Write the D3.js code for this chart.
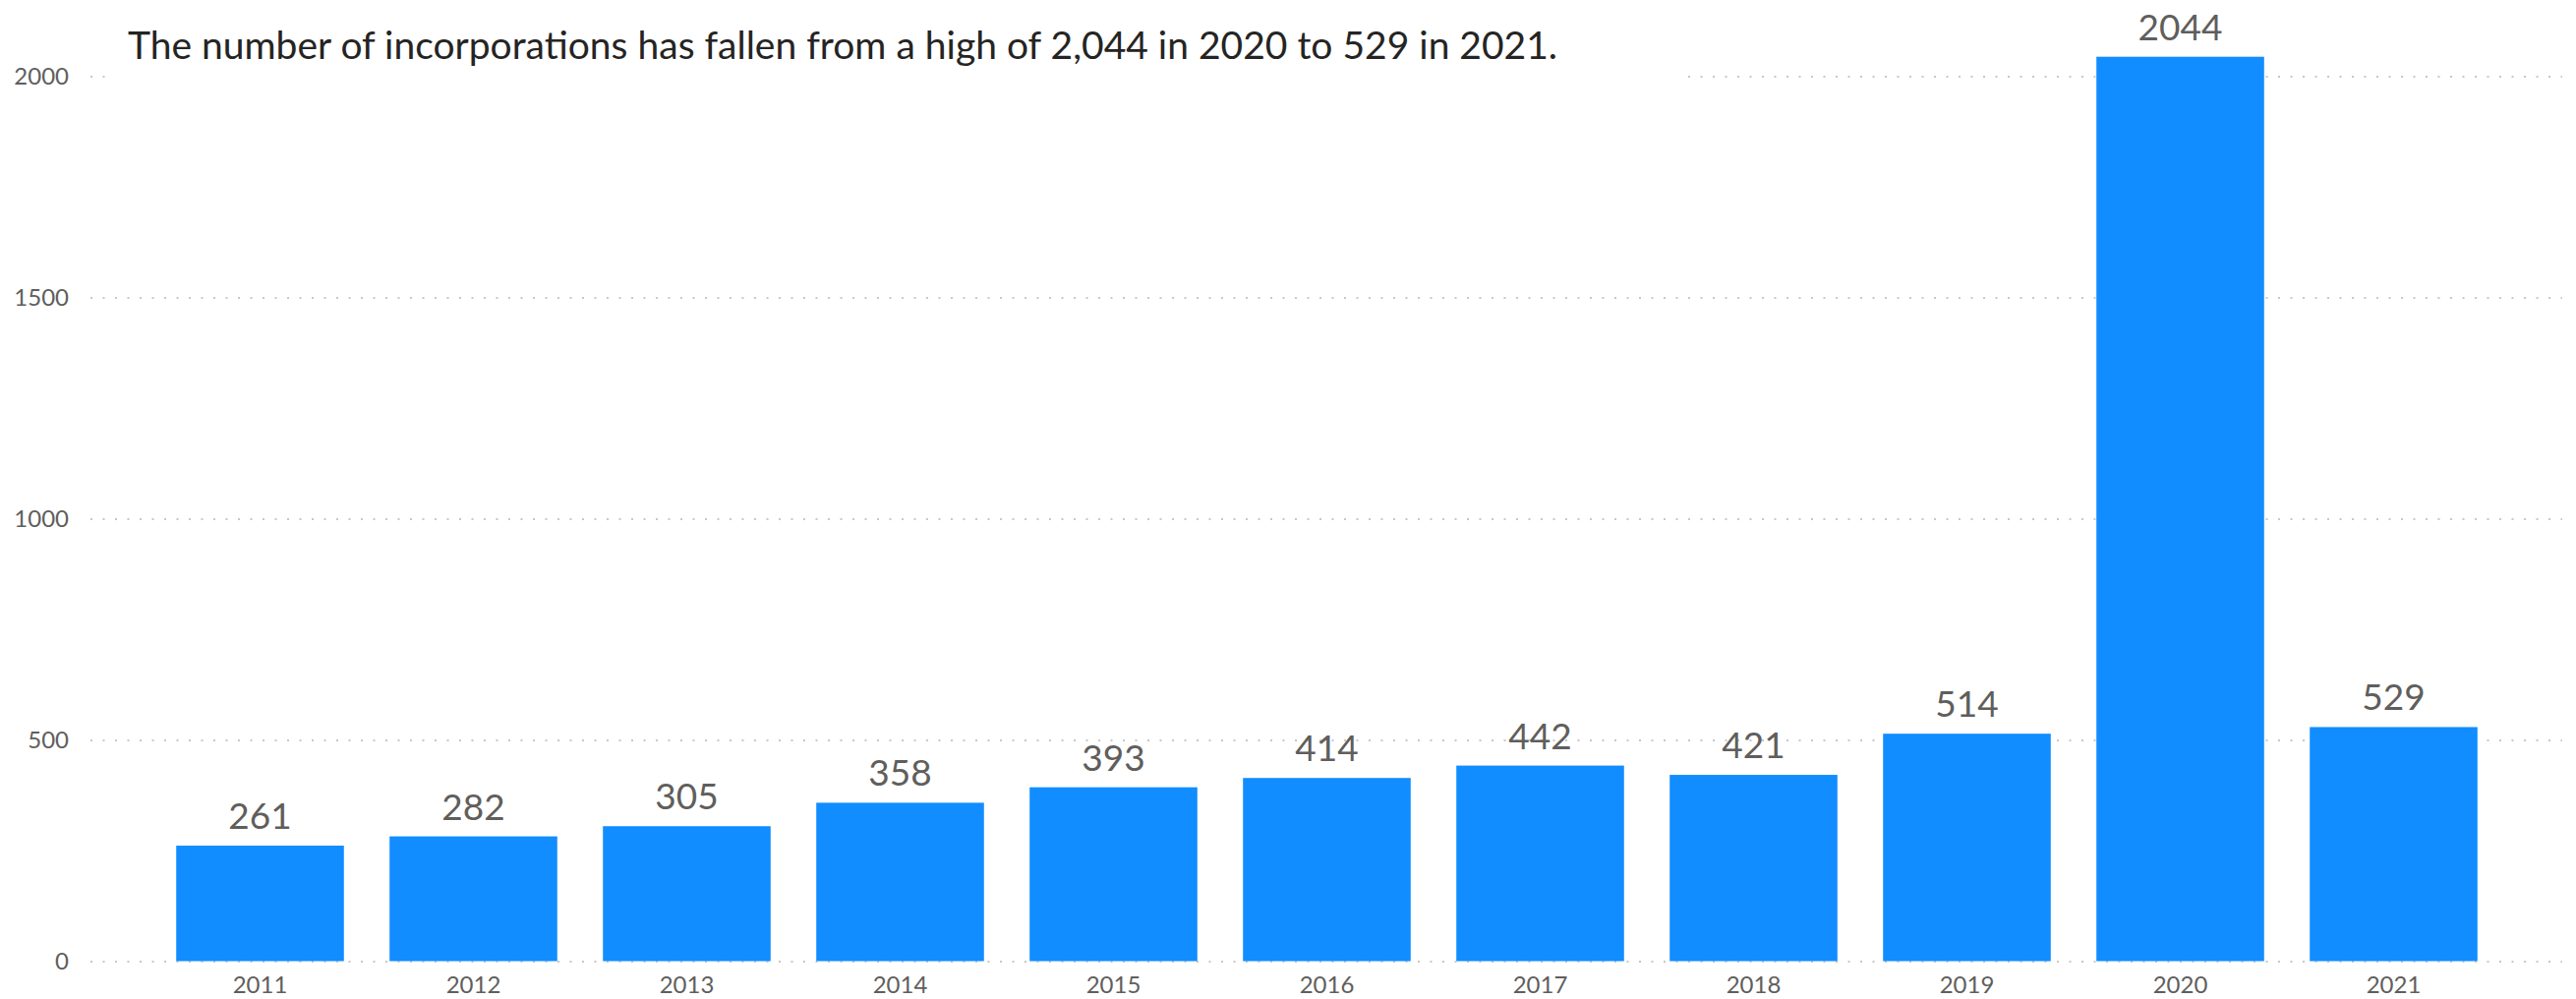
<!DOCTYPE html>
<html>
<head>
<meta charset="utf-8">
<script src="https://cdn.jsdelivr.net/npm/d3@7"></script>
<style>
  html, body { margin: 0; padding: 0; background: #fff; }
  svg { display: block; }
  text { font-family: "Segoe UI", Lato, "Open Sans", sans-serif; }
</style>
</head>
<body>
<svg id="chart" width="2620" height="1016"></svg>
<script>
const years = ["2011","2012","2013","2014","2015","2016","2017","2018","2019","2020","2021"];
const incorporations = [261, 282, 305, 358, 393, 414, 442, 421, 514, 2044, 529];
const yTicks = [0, 500, 1000, 1500, 2000];
const titleText = "The number of incorporations has fallen from a high of 2,044 in 2020 to 529 in 2021.";

const W = 2620, H = 1016;
const svg = d3.select("#chart");

const x = d3.scaleBand()
  .domain(years)
  .range([156, 2543])
  .paddingInner(0.214)
  .paddingOuter(0.107);

const y = d3.scaleLinear()
  .domain([0, 2000])
  .range([977.5, 77.5]);

// gridlines
const yAxis = d3.axisLeft(y)
  .tickValues(yTicks)
  .tickSize(-(2606 - 92))
  .tickPadding(22)
  .tickFormat(d3.format("d"));

const gy = svg.append("g")
  .attr("transform", "translate(92,0)")
  .call(yAxis);
gy.select(".domain").remove();
gy.selectAll(".tick line")
  .attr("stroke", "#c8c8c8")
  .attr("stroke-width", 2)
  .attr("stroke-dasharray", "2,10.5");
gy.selectAll(".tick text")
  .attr("fill", "#605E5C")
  .style("font-size", "24px")
  .attr("x", -22);

// bars
svg.append("g").selectAll("rect")
  .data(years)
  .join("rect")
  .attr("x", d => x(d))
  .attr("width", x.bandwidth())
  .attr("y", (d, i) => y(incorporations[i]))
  .attr("height", (d, i) => y(0) - y(incorporations[i]))
  .attr("fill", "#118DFF");

// value labels
svg.append("g").selectAll("text")
  .data(years)
  .join("text")
  .attr("x", d => x(d) + x.bandwidth() / 2)
  .attr("y", (d, i) => y(incorporations[i]) - 17)
  .attr("text-anchor", "middle")
  .attr("fill", "#605E5C")
  .style("font-size", "37px")
  .text((d, i) => incorporations[i]);

// x axis
const xAxis = d3.axisBottom(x).tickSize(0).tickPadding(0);
const gx = svg.append("g")
  .attr("transform", "translate(0,0)")
  .call(xAxis);
gx.select(".domain").remove();
gx.selectAll(".tick text")
  .attr("y", 1010)
  .attr("dy", null)
  .attr("fill", "#605E5C")
  .style("font-size", "24px");

// title with white background
svg.append("rect")
  .attr("x", 112).attr("y", 10)
  .attr("width", 1600).attr("height", 80)
  .attr("fill", "#fff");
svg.append("text")
  .attr("x", 130)
  .attr("y", 60)
  .attr("fill", "#252423")
  .style("font-size", "39px")
  .text(titleText);
</script>
</body>
</html>
